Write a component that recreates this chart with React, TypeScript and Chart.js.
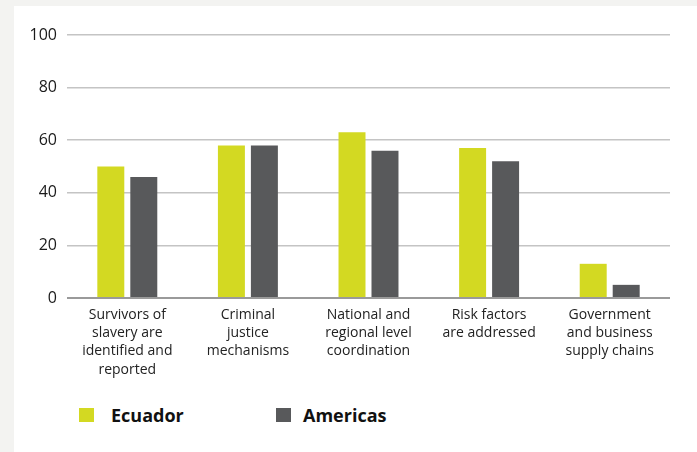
import React, { useEffect, useRef } from "react";
import { Chart, registerables } from "chart.js";

Chart.register(...registerables);

const categories: string[][] = [
  ["Survivors of", "slavery are", "identified and", "reported"],
  ["Criminal", "justice", "mechanisms"],
  ["National and", "regional level", "coordination"],
  ["Risk factors", "are addressed"],
  ["Government", "and business", "supply chains"],
];
const ecuadorValues = [50, 58, 63, 57, 13];
const americasValues = [46, 58, 56, 52, 5];
const seriesNames = ["Ecuador", "Americas"];
const yTicks = [0, 20, 40, 60, 80, 100];

const YELLOW = "#d3d922";
const GREY = "#58595b";
const FONT = "'Open Sans', 'Noto Sans', sans-serif";

export default function App() {
  const ref = useRef<HTMLCanvasElement | null>(null);

  useEffect(() => {
    document.body.style.margin = "0";
    const canvas = ref.current;
    if (!canvas) return;
    const chart = new Chart(canvas, {
      type: "bar",
      data: {
        labels: categories,
        datasets: [
          {
            label: seriesNames[0],
            data: ecuadorValues,
            backgroundColor: YELLOW,
            categoryPercentage: 0.547,
            barPercentage: 0.818,
          },
          {
            label: seriesNames[1],
            data: americasValues,
            backgroundColor: GREY,
            categoryPercentage: 0.547,
            barPercentage: 0.818,
          },
        ],
      },
      options: {
        animation: false,
        responsive: false,
        maintainAspectRatio: false,
        layout: { padding: { left: 0, right: 27, top: 29, bottom: 0 } },
        plugins: { legend: { display: false }, tooltip: { enabled: false } },
        scales: {
          x: {
            grid: { display: false, drawTicks: false },
            border: { display: false },
            ticks: {
              color: "#222",
              font: { family: FONT, size: 14, lineHeight: 1.3 },
              padding: 8,
              maxRotation: 0,
              autoSkip: false,
            },
            afterFit: (s: any) => {
              s.height = 88;
            },
          },
          y: {
            min: 0,
            max: 100,
            afterBuildTicks: (s: any) => {
              s.ticks = yTicks.map((v) => ({ value: v }));
            },
            grid: {
              drawTicks: false,
              color: (c: any) => (c.tick && c.tick.value === 0 ? "#9a9a9a" : "#c4c4c4"),
              lineWidth: (c: any) => (c.tick && c.tick.value === 0 ? 2 : 1.5),
            },
            border: { display: false },
            ticks: {
              color: "#1a1a1a",
              font: { family: FONT, size: 16 },
              padding: 10,
            },
            afterFit: (s: any) => {
              s.width = 53;
            },
          },
        },
      },
    });
    return () => chart.destroy();
  }, []);

  const square = (color: string, left: number) => (
    <div style={{ position: "absolute", left, top: 402, width: 15, height: 14, background: color }} />
  );
  const label = (name: string, left: number) => (
    <div
      style={{
        position: "absolute",
        left,
        top: 397,
        fontFamily: FONT,
        fontWeight: 700,
        fontSize: 18,
        color: "#111",
        lineHeight: "24px",
        whiteSpace: "nowrap",
      }}
    >
      {name}
    </div>
  );

  return (
    <div style={{ position: "fixed", left: 0, top: 0, width: 697, height: 452, background: "#f3f3f1", overflow: "hidden" }}>
      <div style={{ position: "absolute", left: 14, top: 6, width: 683, height: 446, background: "#ffffff" }}>
        <canvas ref={ref} width={683} height={380} style={{ display: "block", width: 683, height: 380 }} />
        {square(YELLOW, 65)}
        {label(seriesNames[0], 97)}
        {square(GREY, 262)}
        {label(seriesNames[1], 289)}
      </div>
    </div>
  );
}
